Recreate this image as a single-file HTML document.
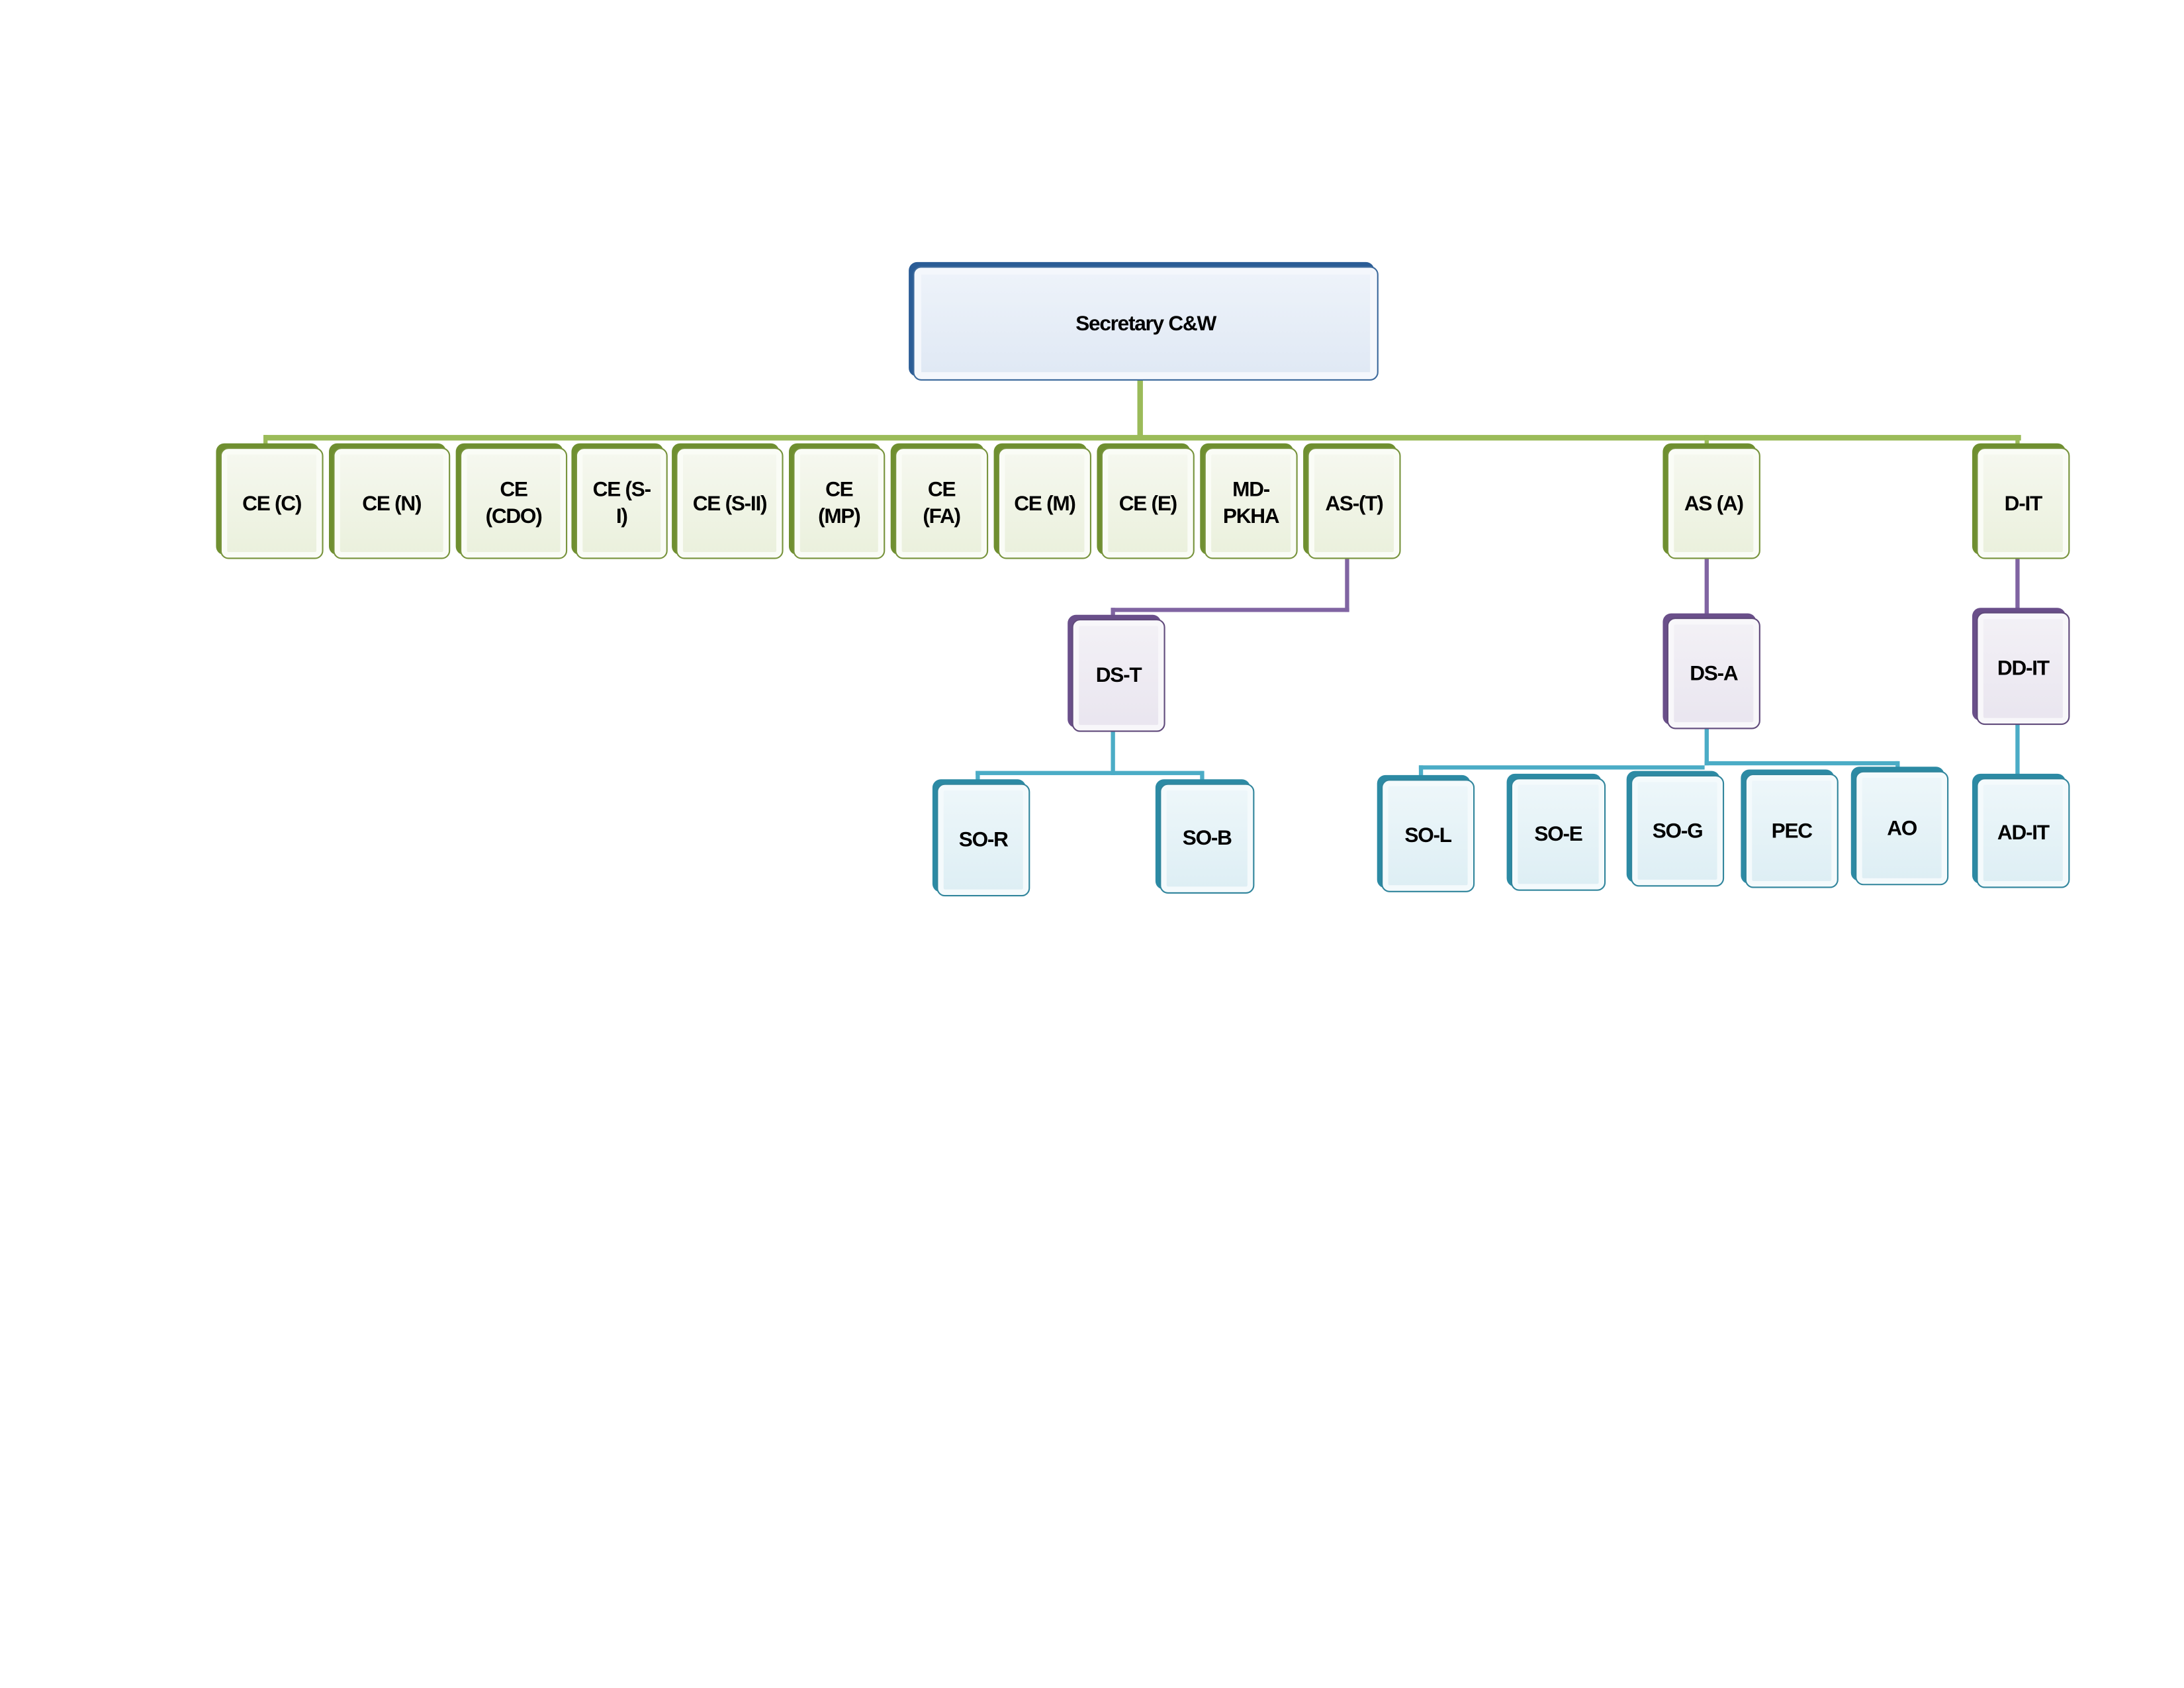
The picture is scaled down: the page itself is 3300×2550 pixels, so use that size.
<!DOCTYPE html>
<html><head><meta charset="utf-8"><style>
html,body{margin:0;padding:0;background:#fff;}
#w{position:absolute;left:0;top:0;width:1553px;height:1200px;transform:scale(2.106);transform-origin:0 0;}
.b{position:absolute;}
.b .s{position:absolute;left:0;top:0;right:3px;bottom:3px;border-radius:6px;}
.b .f{position:absolute;left:3px;top:3px;right:0;bottom:0;border-radius:6px;display:flex;align-items:center;justify-content:center;text-align:center;font:bold 15px/19px "Liberation Sans",sans-serif;letter-spacing:-0.6px;color:#000;box-sizing:border-box;padding:0 4px;}
.g .s{background:#6f8f30;}
.g .f{border:1.6px solid #77933c;background:linear-gradient(#f6f8f0,#eaf0dc);box-shadow:inset 0 0 0 4px #fafcf6;}
.bl .s{background:#2a5c96;}
.bl .f{border:1.6px solid #3d6a9c;background:linear-gradient(#eef3fa,#dfe8f4);box-shadow:inset 0 0 0 5px #f4f7fc;}
.p .s{background:#6a4f8a;}
.p .f{border:1.6px solid #604a7b;background:linear-gradient(#f3f1f6,#e9e5ef);box-shadow:inset 0 0 0 4px #f8f7fa;}
.c .s{background:#2c8aa4;}
.c .f{border:1.6px solid #31859c;background:linear-gradient(#eef7fa,#ddeef4);box-shadow:inset 0 0 0 4px #f4fafc;}
.l{position:absolute;}
.lg{background:#9bbb59;}
.lp{background:#8064a2;}
.lc{background:#4bacc6;}
</style></head><body><div id="w">
<div class="l lg" style="left:816px;top:273px;width:4px;height:43px"></div>
<div class="l lg" style="left:189px;top:312px;width:1261px;height:4px"></div>
<div class="l lg" style="left:189px;top:312px;width:3px;height:8px"></div>
<div class="l lg" style="left:1446px;top:312px;width:3px;height:8px"></div>
<div class="l lg" style="left:1223px;top:312px;width:3px;height:8px"></div>
<div class="l lp" style="left:965px;top:400px;width:3px;height:39px"></div>
<div class="l lp" style="left:797px;top:436px;width:171px;height:3px"></div>
<div class="l lp" style="left:797px;top:436px;width:3px;height:8px"></div>
<div class="l lp" style="left:1223px;top:400px;width:3px;height:42px"></div>
<div class="l lp" style="left:1446px;top:400px;width:3px;height:38px"></div>
<div class="l lc" style="left:797px;top:524px;width:3px;height:32px"></div>
<div class="l lc" style="left:700px;top:553px;width:163px;height:3px"></div>
<div class="l lc" style="left:700px;top:553px;width:3px;height:8px"></div>
<div class="l lc" style="left:861px;top:553px;width:3px;height:8px"></div>
<div class="l lc" style="left:1223px;top:522px;width:3px;height:27px"></div>
<div class="l lc" style="left:1018px;top:549px;width:3px;height:9px"></div>
<div class="l lc" style="left:1018px;top:549px;width:205px;height:3px"></div>
<div class="l lc" style="left:1223px;top:546px;width:139px;height:3px"></div>
<div class="l lc" style="left:1360px;top:546px;width:3px;height:6px"></div>
<div class="l lc" style="left:1446px;top:519px;width:3px;height:38px"></div>
<div class="b bl" style="left:652px;top:188px;width:337px;height:85px"><div class="s"></div><div class="f">Secretary C&amp;W</div></div>
<div class="b g" style="left:155px;top:318px;width:77px;height:83px"><div class="s"></div><div class="f">CE (C)</div></div>
<div class="b g" style="left:236px;top:318px;width:87px;height:83px"><div class="s"></div><div class="f">CE (N)</div></div>
<div class="b g" style="left:327px;top:318px;width:80px;height:83px"><div class="s"></div><div class="f">CE<br>(CDO)</div></div>
<div class="b g" style="left:410px;top:318px;width:69px;height:83px"><div class="s"></div><div class="f">CE (S-<br>I)</div></div>
<div class="b g" style="left:482px;top:318px;width:80px;height:83px"><div class="s"></div><div class="f">CE (S-II)</div></div>
<div class="b g" style="left:566px;top:318px;width:69px;height:83px"><div class="s"></div><div class="f">CE<br>(MP)</div></div>
<div class="b g" style="left:639px;top:318px;width:70px;height:83px"><div class="s"></div><div class="f">CE<br>(FA)</div></div>
<div class="b g" style="left:713px;top:318px;width:70px;height:83px"><div class="s"></div><div class="f">CE (M)</div></div>
<div class="b g" style="left:787px;top:318px;width:70px;height:83px"><div class="s"></div><div class="f">CE (E)</div></div>
<div class="b g" style="left:861px;top:318px;width:70px;height:83px"><div class="s"></div><div class="f">MD-<br>PKHA</div></div>
<div class="b g" style="left:935px;top:318px;width:70px;height:83px"><div class="s"></div><div class="f">AS-(T)</div></div>
<div class="b g" style="left:1193px;top:318px;width:70px;height:83px"><div class="s"></div><div class="f">AS (A)</div></div>
<div class="b g" style="left:1415px;top:318px;width:70px;height:83px"><div class="s"></div><div class="f">D-IT</div></div>
<div class="b p" style="left:766px;top:441px;width:70px;height:84px"><div class="s"></div><div class="f">DS-T</div></div>
<div class="b p" style="left:1193px;top:440px;width:70px;height:83px"><div class="s"></div><div class="f">DS-A</div></div>
<div class="b p" style="left:1415px;top:436px;width:70px;height:84px"><div class="s"></div><div class="f">DD-IT</div></div>
<div class="b c" style="left:669px;top:559px;width:70px;height:84px"><div class="s"></div><div class="f">SO-R</div></div>
<div class="b c" style="left:829px;top:559px;width:71px;height:82px"><div class="s"></div><div class="f">SO-B</div></div>
<div class="b c" style="left:988px;top:556px;width:70px;height:84px"><div class="s"></div><div class="f">SO-L</div></div>
<div class="b c" style="left:1081px;top:555px;width:71px;height:84px"><div class="s"></div><div class="f">SO-E</div></div>
<div class="b c" style="left:1167px;top:553px;width:70px;height:83px"><div class="s"></div><div class="f">SO-G</div></div>
<div class="b c" style="left:1249px;top:552px;width:70px;height:85px"><div class="s"></div><div class="f">PEC</div></div>
<div class="b c" style="left:1328px;top:550px;width:70px;height:85px"><div class="s"></div><div class="f">AO</div></div>
<div class="b c" style="left:1415px;top:555px;width:70px;height:82px"><div class="s"></div><div class="f">AD-IT</div></div>
</div></body></html>
